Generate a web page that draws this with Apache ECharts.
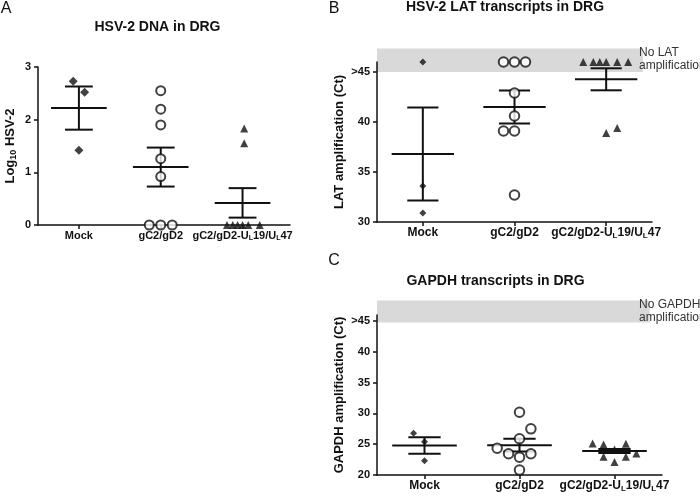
<!DOCTYPE html>
<html><head><meta charset="utf-8">
<script src="https://cdn.jsdelivr.net/npm/echarts@6/dist/echarts.min.js"></script>
<style>html,body{margin:0;padding:0;background:#fff}#c{width:700px;height:497px}</style>
</head><body><div id="c"></div>
<script>
// ---------- data ----------
const groupNames = ['Mock', 'gC2/gD2', 'gC2/gD2-UL19/UL47'];
const groupLabels = ['{b|Mock}', '{b|gC2/gD2}', '{b|gC2/gD2-U}{s|L}{b|19/U}{s|L}{b|47}'];

// Panel A: HSV-2 DNA (log10)
const dnaMock = [2.73, 2.52, 1.42];
const dnaMockX = [-0.07, 0.07, 0];
const dnaGD = [2.55, 2.2, 1.9, 1.26, 0.92, 0, 0, 0];
const dnaGDX = [0, 0, 0, 0, 0, -0.14, 0, 0.14];
const dnaUL = [1.83, 1.55, 0, 0, 0, 0, 0, 0];
const dnaULX = [0.02, 0.02, -0.19, -0.12, -0.06, 0.0, 0.07, 0.21];
const dnaMean = [2.22, 1.10, 0.42];
const dnaSem = [0.41, 0.37, 0.28];

// Panel B: LAT Ct (46 = ">45")
const latMock = [46, 33.6, 30.9];
const latMockX = [0, 0, 0];
const latGD = [46, 46, 46, 42.9, 40.6, 39.1, 39.1, 32.7];
const latGDX = [-0.12, 0, 0.12, 0, 0, -0.12, 0, 0];
const latUL = [46, 46, 46, 46, 46, 46, 38.9, 39.4];
const latULX = [-0.25, -0.14, -0.07, 0, 0.12, 0.24, 0, 0.12];
const latMean = [36.8, 41.5, 44.27];
const latSem = [4.65, 1.65, 1.1];
const latBand = [45, 47.34];

// Panel C: GAPDH Ct
const gapMock = [26.8, 25.4, 22.3];
const gapMockX = [-0.115, 0, 0];
const gapGD = [30.2, 27.5, 25.9, 24.35, 23.45, 22.9, 23.45, 20.8];
const gapGDX = [0, 0.12, 0, -0.235, -0.115, 0, 0.12, 0];
const gapUL = [25.1, 24.95, 22.97, 24.15, 25.06, 22.97, 23.5, 22.1];
const gapULX = [-0.23, -0.115, -0.115, 0, 0.12, 0.12, 0.23, 0];
const gapMean = [24.8, 24.85, 23.9];
const gapSem = [1.35, 1.05, 0.33];
const gapBand = [44.8, 48.36];

const dnaTicks = [0, 1, 2, 3];
const latTicks = [30, 35, 40, 45];
const gapTicks = [20, 25, 30, 35, 40, 45];

// ---------- styling ----------
const FONT = '"Liberation Sans", Arial, Helvetica, sans-serif';
const INK = '#111';
const MEAN_W = 0.34, CAP_W = 0.17;
const axisLine = {show: true, onZero: false, lineStyle: {color: INK, width: 1.5}};
function makeRich(fs) {
  return {
    b: {fontFamily: FONT, fontWeight: 'bold', fontSize: fs, color: INK, verticalAlign: 'top', lineHeight: fs + 1},
    s: {fontFamily: FONT, fontWeight: 'bold', fontSize: fs - 4, color: INK, verticalAlign: 'bottom', lineHeight: fs - 4, padding: [fs - 4, 0, 0, 0]}
  };
}

function xAx(gi, max, fs) {
  return {
    type: 'value', gridIndex: gi, min: -0.5, max: max,
    axisLine: axisLine,
    axisTick: {show: true, customValues: [0, 1, 2], length: 4, lineStyle: {color: INK, width: 1.5}},
    axisLabel: {customValues: [0, 1, 2], formatter: v => groupLabels[Math.round(v)], margin: 5, rich: makeRich(fs)},
    splitLine: {show: false}
  };
}
function yAx(gi, min, max, ticks, name, gap, nameRich) {
  return {
    type: 'value', gridIndex: gi, min: min, max: max,
    axisLine: axisLine,
    axisTick: {show: true, customValues: ticks, length: 4, lineStyle: {color: INK, width: 1.5}},
    axisLabel: {customValues: ticks, formatter: v => (v === 45 ? '>45' : String(v)),
      fontFamily: FONT, fontWeight: 'bold', fontSize: 11, color: INK, margin: 7},
    splitLine: {show: false},
    name: name, nameLocation: 'middle', nameGap: gap, nameRotate: 90,
    nameTextStyle: {fontFamily: FONT, fontWeight: 'bold', fontSize: 13, color: INK, rich: nameRich}
  };
}

function scat(gi, g, vals, offs, symbol, size) {
  const isCircle = symbol === 'circle';
  return {
    type: 'scatter', xAxisIndex: gi, yAxisIndex: gi, clip: false, z: 4,
    symbol: symbol, symbolSize: size,
    itemStyle: isCircle ? {color: '#fff', borderColor: INK, borderWidth: 2} : {color: INK},
    data: vals.map((v, i) => [g + offs[i], v]),
    silent: true
  };
}
function errRender(params, api) {
  const x = api.value(0), m = api.value(1), s = api.value(2);
  const st = {stroke: INK, lineWidth: 2};
  const L = (a, b) => {
    const p = api.coord(a), q = api.coord(b);
    return {type: 'line', shape: {x1: p[0], y1: p[1], x2: q[0], y2: q[1]}, style: st};
  };
  return {type: 'group', children: [
    L([x - MEAN_W, m], [x + MEAN_W, m]),
    L([x, m - s], [x, m + s]),
    L([x - CAP_W, m + s], [x + CAP_W, m + s]),
    L([x - CAP_W, m - s], [x + CAP_W, m - s])
  ]};
}
function errSeries(gi, means, sems) {
  return {type: 'custom', xAxisIndex: gi, yAxisIndex: gi, clip: false, z: 3, silent: true,
    data: means.map((m, i) => [i, m, sems[i]]), renderItem: errRender};
}
function bandSeries(gi, band, xr) {
  return {type: 'custom', xAxisIndex: gi, yAxisIndex: gi, clip: false, z: 0, silent: true,
    data: [[xr[0], xr[1], band[0], band[1]]],
    renderItem: (p, api) => {
      const a = api.coord([api.value(0), api.value(3)]);
      const b = api.coord([api.value(1), api.value(2)]);
      return {type: 'rect', shape: {x: a[0], y: a[1], width: b[0] - a[0], height: b[1] - a[1]},
        style: {fill: '#d9d9d9'}};
    }};
}

const chart = echarts.init(document.getElementById('c'), null, {renderer: 'canvas'});
const nameRichA = {
  t: {fontFamily: FONT, fontWeight: 'bold', fontSize: 13, color: INK, verticalAlign: 'top', lineHeight: 14},
  u: {fontFamily: FONT, fontWeight: 'bold', fontSize: 9, color: INK, verticalAlign: 'bottom', lineHeight: 9, padding: [8, 0, 0, 0]}
};
const txt = (x, y, text, font, extra) => Object.assign({type: 'text', x: x, y: y, z: 100, silent: true,
  style: Object.assign({text: text, font: font, fill: INK, align: 'center', verticalAlign: 'middle'}, extra || {})});

chart.setOption({
  animation: false,
  backgroundColor: '#fff',
  grid: [
    {left: 38, top: 67, width: 252, height: 158},
    {left: 377, top: 62, width: 275, height: 160},
    {left: 377, top: 315, width: 285, height: 160}
  ],
  xAxis: [xAx(0, 2.58, 11), xAx(1, 2.5, 12), xAx(2, 2.5, 12)],
  yAxis: [
    yAx(0, 0, 3, dnaTicks, '{t|Log}{u|10}{t| HSV-2}', 20, nameRichA),
    yAx(1, 30, 46, latTicks, 'LAT amplification (Ct)', 31),
    yAx(2, 20, 46, gapTicks, 'GAPDH amplification (Ct)', 31)
  ],
  series: [
    bandSeries(1, latBand, [-0.5, 2.4]),
    bandSeries(2, gapBand, [-0.5, 2.37]),
    errSeries(0, dnaMean, dnaSem),
    errSeries(1, latMean, latSem),
    errSeries(2, gapMean, gapSem),
    scat(0, 0, dnaMock, dnaMockX, 'diamond', 9),
    scat(0, 1, dnaGD, dnaGDX, 'circle', 9),
    scat(0, 2, dnaUL, dnaULX, 'triangle', 8),
    scat(1, 0, latMock, latMockX, 'diamond', 7),
    scat(1, 1, latGD, latGDX, 'circle', 9.5),
    scat(1, 2, latUL, latULX, 'triangle', 8),
    scat(2, 0, gapMock, gapMockX, 'diamond', 7),
    scat(2, 1, gapGD, gapGDX, 'circle', 9.5),
    scat(2, 2, gapUL, gapULX, 'triangle', 8)
  ],
  graphic: [
    txt(6, 9, 'A', '16px ' + FONT),
    txt(334, 9, 'B', '16px ' + FONT),
    txt(334, 261, 'C', '16px ' + FONT),
    txt(157.5, 27, 'HSV-2 DNA in DRG', 'bold 14px ' + FONT),
    txt(505, 7, 'HSV-2 LAT transcripts in DRG', 'bold 14px ' + FONT),
    txt(495.5, 281, 'GAPDH transcripts in DRG', 'bold 14px ' + FONT),
    txt(639, 46, 'No LAT\namplification', '12px ' + FONT, {align: 'left', verticalAlign: 'top', lineHeight: 13, fill: '#333'}),
    txt(639, 298, 'No GAPDH\namplification', '12px ' + FONT, {align: 'left', verticalAlign: 'top', lineHeight: 13, fill: '#333'})
  ]
});
</script>
</body></html>
